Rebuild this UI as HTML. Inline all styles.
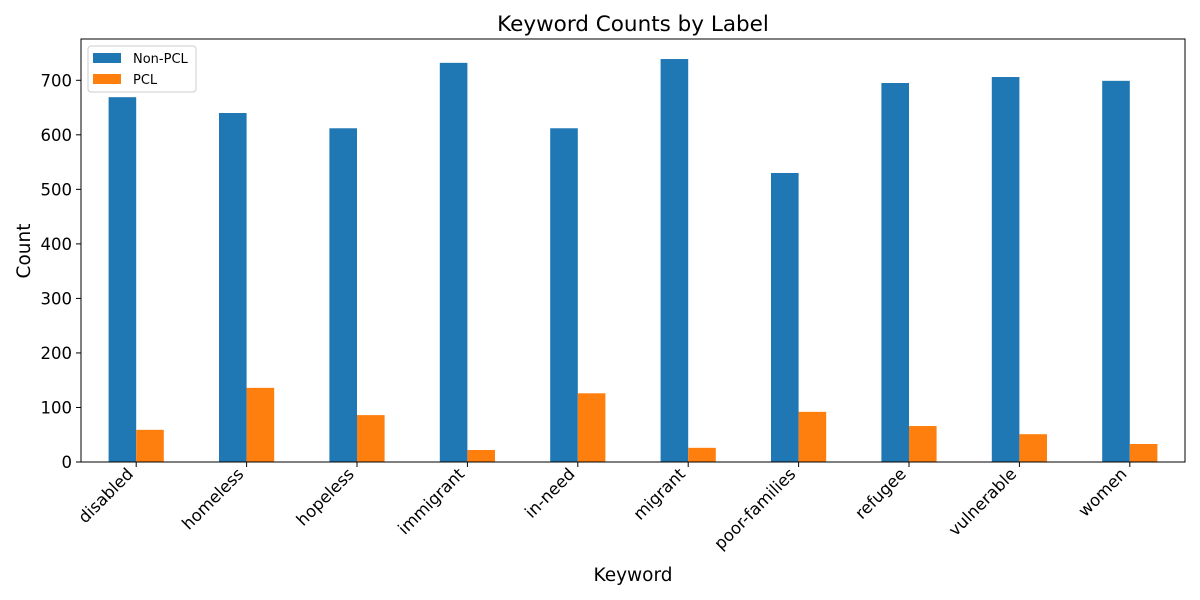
<!DOCTYPE html>
<html><head><meta charset="utf-8"><style>
html,body{margin:0;padding:0;background:#fff;}
svg{display:block;font-family:"DejaVu Sans","Liberation Sans",sans-serif;}
</style></head><body>
<svg id="chart" width="1200" height="600">
<text x="633" y="31" font-size="21.5" text-anchor="middle">Keyword Counts by Label</text>
<g id="plot"></g>
<text x="633" y="581" font-size="18.5" text-anchor="middle">Keyword</text>
<text transform="translate(30,251) rotate(-90)" font-size="18.5" text-anchor="middle">Count</text>
</svg>
<script>
const categories=["disabled","homeless","hopeless","immigrant","in-need","migrant","poor-families","refugee","vulnerable","women"];
const nonPcl=[669,640,612,732,612,739,530,695,706,699];
const pcl=[59,136,86,22,126,26,92,66,51,33];
const yTicks=[0,100,200,300,400,500,600,700];
const seriesNames=["Non-PCL","PCL"];
const NS="http://www.w3.org/2000/svg";
const L=81,R=1185,T=39,B=462;
const step=(R-L)/categories.length,bw=step*0.25;
const xC=i=>L+step*(i+0.5);
const y=v=>B-v*0.5453;
const g=document.getElementById('plot');
function mk(t,a){const e=document.createElementNS(NS,t);for(const k in a)e.setAttribute(k,a[k]);g.appendChild(e);return e;}
categories.forEach((c,i)=>{
  const b1=mk('rect',{x:xC(i)-bw,y:y(nonPcl[i]),width:bw,height:B-y(nonPcl[i]),fill:'#1f77b4'});
  
  
  const b2=mk('rect',{x:xC(i),y:y(pcl[i]),width:bw,height:B-y(pcl[i]),fill:'#ff7f0e'});
  
  
  mk('line',{x1:xC(i),x2:xC(i),y1:B,y2:B+5,stroke:'#000'});
  const t=mk('text',{transform:`translate(${xC(i)-2},${B+13}) rotate(-45)`,'font-size':16.5,'text-anchor':'end'});
  t.textContent=c;
  
  
});
yTicks.forEach(v=>{
  mk('line',{x1:L-5,x2:L,y1:y(v),y2:y(v),stroke:'#000'});
  const t=mk('text',{x:L-9,y:y(v)+6,'font-size':16.5,'text-anchor':'end'});
  t.textContent=v;
  
  
});
const fr=mk('rect',{x:L,y:T,width:R-L,height:B-T,fill:'none',stroke:'#000','stroke-width':1});


const lg=mk('rect',{x:88,y:46,width:108,height:46,rx:3,fill:'#fff','fill-opacity':0.8,stroke:'#ccc'});


['#1f77b4','#ff7f0e'].forEach((col,k)=>{
  mk('rect',{x:93,y:53+k*21,width:28,height:10,fill:col});
  const t=mk('text',{x:133,y:63+k*21,'font-size':13});
  t.textContent=seriesNames[k];
  
  
});
</script>
</body></html>
